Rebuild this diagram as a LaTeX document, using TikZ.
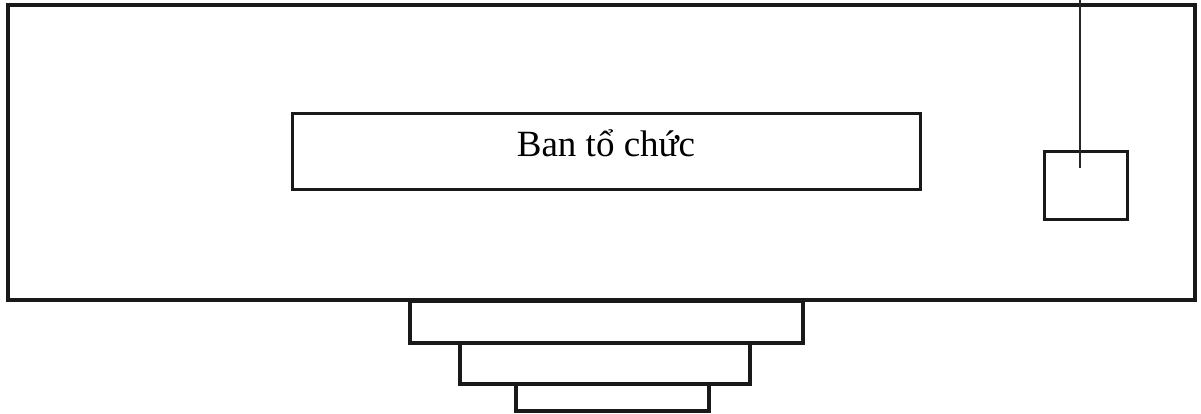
\documentclass[tikz,border=0pt]{standalone}
\usepackage{fontspec}
\setmainfont{Liberation Serif}
\tikzset{
  frame/.style={draw=black!90, line width=3.2pt, fill=white},
  box/.style={draw=black!90, line width=3.2pt, fill=white, inner sep=0pt},
  wire/.style={draw=black!85, line width=1.5pt}
}
\begin{document}
\begin{tikzpicture}[x=1pt,y=-1pt]
  \useasboundingbox (0,0) rectangle (1201,414);
  % stepped base under the main frame
  \draw[box] (516,384) rectangle (709,411);
  \draw[box] (460,343) rectangle (750,384);
  \draw[box] (410,301) rectangle (803,343);
  % main frame
  \draw[frame] (8,5) rectangle (1195,300);
  % title box
  \node[box, minimum width=628pt, minimum height=76pt, anchor=north west] (title) at (291,112) {};
  \node[font=\fontsize{37}{44}\selectfont, anchor=base] (label) at (606,157) {Ban tổ chức};
  % small box with a wire running up off the top edge
  \node[box, minimum width=83pt, minimum height=68pt, anchor=north west] (small) at (1043,150) {};
  \coordinate (top) at (1080,0);
  \coordinate (tip) at (1080,168);
  \draw[wire] (top) -- (tip);
\end{tikzpicture}
\end{document}
